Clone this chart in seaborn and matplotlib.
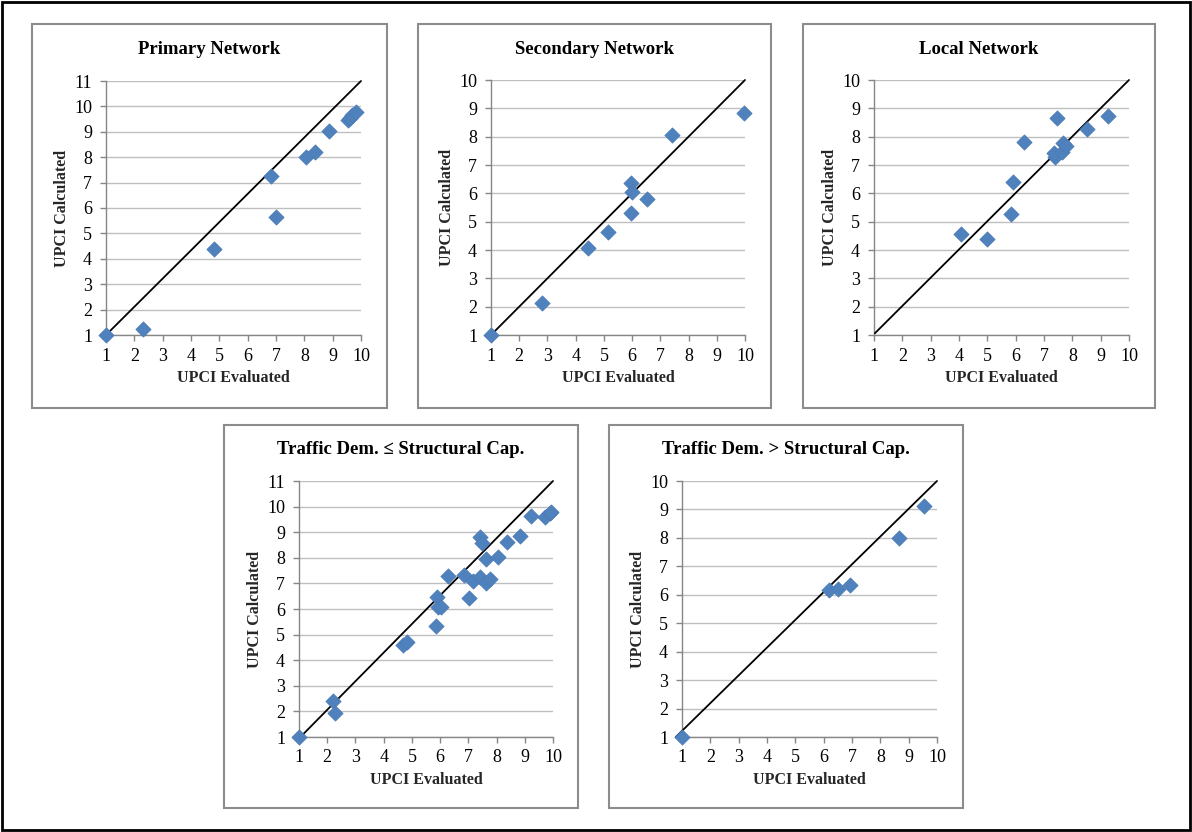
import matplotlib
matplotlib.use("Agg")
import matplotlib.pyplot as plt
import seaborn as sns
import pandas as pd
from matplotlib.patches import Rectangle

# ---------------- data ----------------
primary_eval = [1.00, 2.31, 4.81, 6.84, 7.01, 8.05, 8.39, 8.86, 9.54, 9.62, 9.69, 9.84]
primary_calc = [1.00, 1.25, 4.38, 7.26, 5.64, 7.99, 8.22, 9.03, 9.45, 9.55, 9.65, 9.78]

secondary_eval = [1.00, 2.80, 4.43, 5.13, 5.95, 6.01, 5.96, 6.52, 7.42, 9.96]
secondary_calc = [1.00, 2.12, 4.06, 4.63, 6.38, 6.03, 5.30, 5.81, 8.06, 8.83]

local_eval = [4.07, 5.00, 5.85, 5.91, 6.28, 7.38, 7.36, 7.46, 7.62, 7.67, 7.79, 8.52, 9.25]
local_calc = [4.58, 4.40, 5.26, 6.40, 7.82, 7.29, 7.44, 8.65, 7.47, 7.76, 7.68, 8.27, 8.73]

dem_le_cap_eval = [1.00, 2.19, 2.28, 4.70, 4.82, 5.84, 5.90, 5.94, 6.03, 6.27, 6.83,
                   7.01, 7.17, 7.41, 7.41, 7.47, 7.61, 7.64, 7.78, 8.04, 8.37, 8.82,
                   9.23, 9.70, 9.88, 9.94]
dem_le_cap_calc = [1.00, 2.41, 1.93, 4.61, 4.70, 5.33, 6.46, 6.08, 6.06, 7.30, 7.31,
                   6.44, 7.11, 7.25, 8.82, 8.56, 7.00, 7.97, 7.19, 8.05, 8.60, 8.85,
                   9.63, 9.61, 9.74, 9.80]

dem_gt_cap_eval = [1.00, 6.18, 6.51, 6.92, 8.65, 9.54]
dem_gt_cap_calc = [1.00, 6.16, 6.22, 6.36, 7.98, 9.11]

# reference lines (start / end points)
primary_line_x, primary_line_y = [1.0, 10.0], [1.0, 11.0]
secondary_line_x, secondary_line_y = [1.0, 10.0], [1.0, 10.0]
local_line_x, local_line_y = [1.03, 10.0], [1.06, 10.0]
dem_le_cap_line_x, dem_le_cap_line_y = [1.05, 10.0], [1.0, 11.0]
dem_gt_cap_line_x, dem_gt_cap_line_y = [0.78, 10.0], [1.0, 10.0]

titles = ["Primary Network", "Secondary Network", "Local Network",
          "Traffic Dem. \u2264 Structural Cap.", "Traffic Dem. > Structural Cap."]
x_label = "UPCI Evaluated"
y_label = "UPCI Calculated"

# ---------------- style ----------------
sns.set_theme(style="white")
plt.rcParams["font.family"] = ["Liberation Serif", "DejaVu Serif"]

W, H = 1192, 832
fig = plt.figure(figsize=(W / 100, H / 100), dpi=100)

# layout in pixels: panel frame (x0, y0, x1, y1) and plot area (x0, y0, x1, y1)
panels = [
    (titles[0], primary_eval, primary_calc, 11, primary_line_x, primary_line_y,
     (32, 24, 387, 408), (106, 81, 361, 335)),
    (titles[1], secondary_eval, secondary_calc, 10, secondary_line_x, secondary_line_y,
     (418, 24, 771, 408), (491, 80, 745, 335)),
    (titles[2], local_eval, local_calc, 10, local_line_x, local_line_y,
     (803, 24, 1155, 408), (874, 80, 1129, 335)),
    (titles[3], dem_le_cap_eval, dem_le_cap_calc, 11, dem_le_cap_line_x, dem_le_cap_line_y,
     (224, 425, 578, 808), (299, 481, 553, 737)),
    (titles[4], dem_gt_cap_eval, dem_gt_cap_calc, 10, dem_gt_cap_line_x, dem_gt_cap_line_y,
     (609, 425, 963, 808), (682, 481, 937, 737)),
]

point_color = "#4F81BD"
axis_color = "#868686"
grid_color = "#BFBFBF"


def fig_rect(x0, y0, x1, y1):
    return [x0 / W, 1 - y1 / H, (x1 - x0) / W, (y1 - y0) / H]


for title, xs, ys, ymax, lx, ly, frame, area in panels:
    # panel frame
    fx, fy, fw, fh = fig_rect(*frame)
    fig.add_artist(Rectangle((fx, fy), fw, fh, transform=fig.transFigure,
                             fill=False, edgecolor="#8C8C8C", linewidth=1.5))

    ax = fig.add_axes(fig_rect(*area))
    df = pd.DataFrame({"evaluated": xs, "calculated": ys})

    ax.plot(lx, ly, color="black", linewidth=1.3, zorder=3, clip_on=False)
    sns.scatterplot(data=df, x="evaluated", y="calculated", ax=ax, marker="D",
                    s=62, color=point_color, edgecolor="#4A7AB5", linewidth=0.4,
                    zorder=4, clip_on=False)

    ax.set_xlim(1, 10)
    ax.set_ylim(1, ymax)
    ax.set_xticks(range(1, 11))
    ax.set_yticks(range(1, ymax + 1))
    ax.yaxis.grid(True, color=grid_color, linewidth=1.0)
    ax.xaxis.grid(False)
    ax.set_axisbelow(True)

    for side in ("top", "right"):
        ax.spines[side].set_visible(False)
    for side in ("left", "bottom"):
        ax.spines[side].set_color(axis_color)
        ax.spines[side].set_linewidth(1.0)

    ax.tick_params(axis="both", which="major", direction="out", length=4,
                   width=1.0, color=axis_color, labelsize=13, labelcolor="black")
    ax.tick_params(axis="x", pad=5)
    ax.tick_params(axis="y", pad=6)
    ax.tick_params(left=True, bottom=True)

    ax_w = area[2] - area[0]
    ax_h = area[3] - area[1]
    ax.set_xlabel(x_label, fontsize=11.5, fontweight="bold")
    ax.set_ylabel(y_label, fontsize=11.5, fontweight="bold")
    ax.xaxis.set_label_coords(0.5, -43 / ax_h)
    ax.xaxis.label.set_va("center")
    ax.yaxis.set_label_coords(-44 / ax_w, 0.5)
    ax.yaxis.label.set_va("center")

    # centred title within the panel frame
    tx = (frame[0] + frame[2]) / 2 / W
    ty = 1 - (frame[1] + 25) / H
    fig.text(tx, ty, title, ha="center", va="center", fontsize=13.5,
             fontweight="bold", color="black")

# outer border
fig.add_artist(Rectangle((2 / W, 2 / H), (W - 4) / W, (H - 4) / H,
                         transform=fig.transFigure, fill=False,
                         edgecolor="black", linewidth=2.0))

fig.savefig("out.png", dpi=100, facecolor="white")
